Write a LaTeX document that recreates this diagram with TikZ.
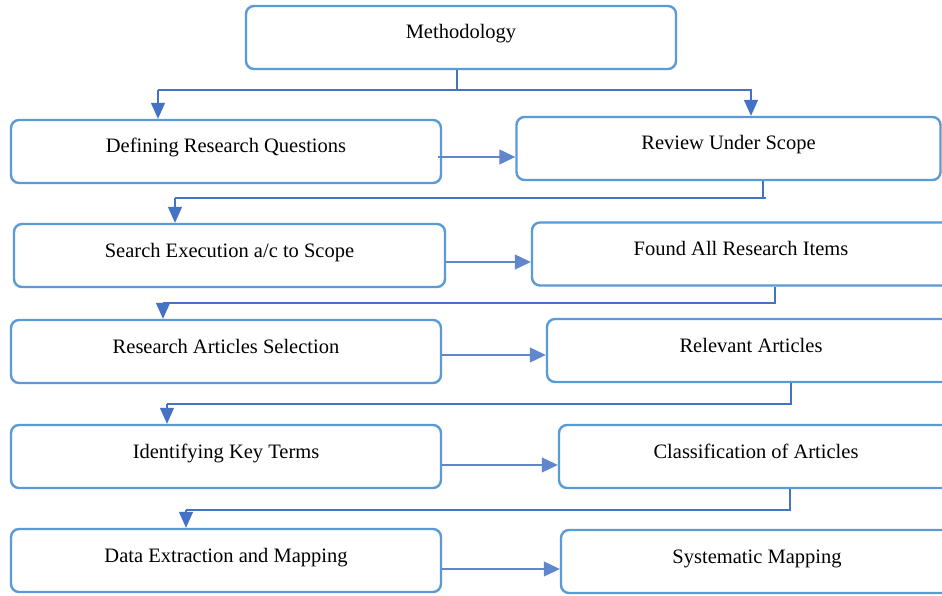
\documentclass[tikz,border=0pt]{standalone}
\usepackage{fontspec}
\setmainfont{Liberation Serif}
\usetikzlibrary{arrows.meta}
\definecolor{boxblue}{HTML}{5B9BD5}
\definecolor{lineblue}{HTML}{4472C4}
\begin{document}
\begin{tikzpicture}[x=1pt,y=-1pt,
  box/.style={draw=boxblue, line width=2.4pt, rounded corners=8pt, fill=white,
    minimum height=63pt, text height=14pt, text depth=11pt, inner sep=0pt,
    font=\fontsize{20.5}{24}\selectfont},
  drop/.style={draw=lineblue, line width=1.3pt},
  bar/.style={draw=lineblue, line width=2.2pt},
  arr/.style={draw=lineblue, line width=1.3pt, -{Triangle[length=16pt,width=14pt]}},
  harr/.style={draw=lineblue!85!white, line width=1.1pt, -{Triangle[length=16pt,width=15pt]}}]
\useasboundingbox (0,0) rectangle (942,596);
\fill[white] (0,0) rectangle (942,596);

% boxes
\node[box, minimum width=430pt] (meth) at (461,37.5) {Methodology};
\node[box, minimum width=430pt] (def) at (226,151.5) {Defining Research Questions};
\node[box, minimum width=424pt] (rev) at (728.5,148.5) {Review Under Scope};
\node[box, minimum width=431pt] (srch) at (229.5,255.5) {Search Execution a/c to Scope};
\node[box, minimum width=418pt] (found) at (741,254) {Found All Research Items};
\node[box, minimum width=430pt] (sel) at (226,351.5) {Research Articles Selection};
\node[box, minimum width=408pt] (rel) at (751,350.5) {Relevant Articles};
\node[box, minimum width=430pt] (key) at (226,456.5) {Identifying Key Terms};
\node[box, minimum width=394pt] (cls) at (756,456.5) {Classification of Articles};
\node[box, minimum width=430pt] (dat) at (226,560.5) {Data Extraction and Mapping};
\node[box, minimum width=392pt] (sys) at (757,561.5) {Systematic Mapping};

% level 0 -> 1
\coordinate (j0) at (457,90);
\draw[drop] (meth.south -| j0) -- (j0);
\draw[bar] (158,90) -- (752,90);
\draw[arr] (158,90) -- (def.north -| 158,0);
\draw[arr] (751,90) -- (rev.north -| 751,0);
\draw[harr] (438,157) -- (rev.west |- 0,157);

% level 1 -> 2
\coordinate (j1) at (763,198);
\draw[drop] (rev.south -| j1) -- (j1);
\draw[bar] (175,198) -- (766,198);
\draw[arr] (175,198) -- (srch.north -| 175,0);
\draw[harr] (srch.east |- 0,262) -- (found.west |- 0,262);

% level 2 -> 3
\coordinate (j2) at (775,303);
\draw[drop] (found.south -| j2) -- (j2);
\draw[bar] (163,303) -- (776,303);
\draw[arr] (163,303) -- (sel.north -| 163,0);
\draw[harr] (sel.east |- 0,355) -- (rel.west |- 0,355);

% level 3 -> 4
\coordinate (j3) at (791,404);
\draw[drop] (rel.south -| j3) -- (j3);
\draw[bar] (167,404) -- (792,404);
\draw[arr] (167,404) -- (key.north -| 167,0);
\draw[harr] (key.east |- 0,465) -- (cls.west |- 0,465);

% level 4 -> 5
\coordinate (j4) at (790,510);
\draw[drop] (cls.south -| j4) -- (j4);
\draw[bar] (186,510) -- (791,510);
\draw[arr] (186,510) -- (dat.north -| 186,0);
\draw[harr] (dat.east |- 0,569) -- (sys.west |- 0,569);
\end{tikzpicture}
\end{document}
